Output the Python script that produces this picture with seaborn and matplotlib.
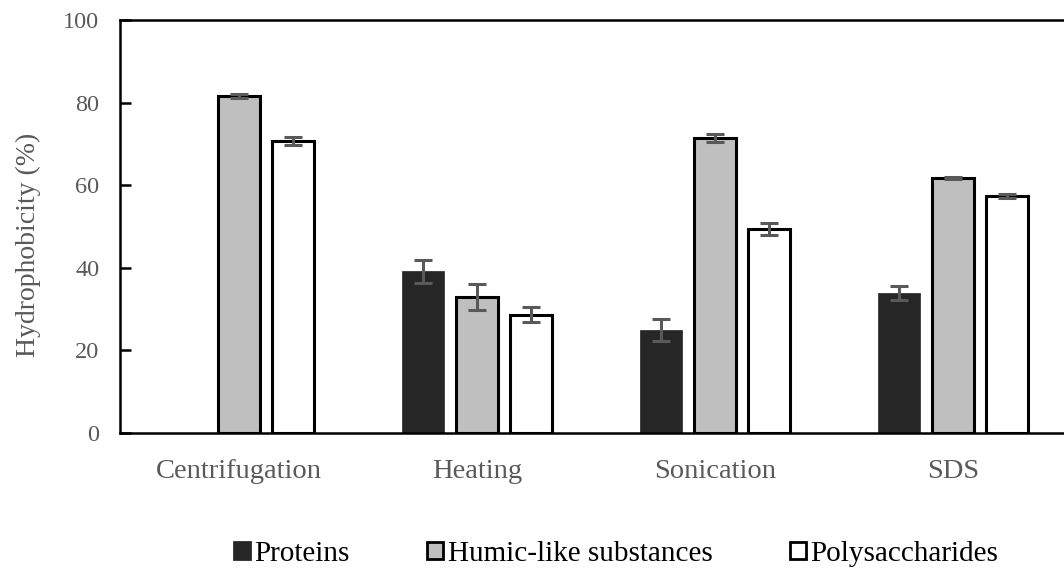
import numpy as np
import pandas as pd
import matplotlib
matplotlib.use("Agg")
import matplotlib.pyplot as plt
import seaborn as sns
from matplotlib.patches import Patch

# ---- data ----
categories = ["Centrifugation", "Heating", "Sonication", "SDS"]
series = ["Proteins", "Humic-like substances", "Polysaccharides"]
proteins = [0.0, 39.2, 24.9, 33.9]
proteins_err = [0.0, 2.8, 2.7, 1.8]
humic = [81.6, 32.9, 71.4, 61.7]
humic_err = [0.4, 3.1, 1.0, 0.3]
polysaccharides = [70.7, 28.6, 49.4, 57.4]
polysaccharides_err = [0.9, 1.8, 1.5, 0.5]
y_ticks = [0, 20, 40, 60, 80, 100]
y_label = "Hydrophobicity (%)"

values = [proteins, humic, polysaccharides]
errors = [proteins_err, humic_err, polysaccharides_err]
colors = {"Proteins": "#262626", "Humic-like substances": "#bfbfbf", "Polysaccharides": "#ffffff"}

df = pd.DataFrame({
    "category": [c for s in series for c in categories],
    "series": [s for s in series for c in categories],
    "value": [v for vals in values for v in vals],
})

sns.set_style("ticks")
plt.rcParams["font.family"] = ["Liberation Serif", "DejaVu Serif"]

fig = plt.figure(figsize=(10.64, 5.70), dpi=100)
ax = fig.add_axes([120 / 1064, 137 / 570, 952 / 1064, 413 / 570])

sns.barplot(data=df, x="category", y="value", hue="series", order=categories,
            hue_order=series, palette=colors, width=0.68, gap=0.21,
            saturation=1, errorbar=None, legend=False, ax=ax,
            edgecolor="black", linewidth=2.2)

# proteins bars without black outline
for p in ax.containers[0]:
    p.set_edgecolor("#262626")
    p.set_linewidth(0.5)

# error bars positioned on seaborn's bars
for cont, vals, errs in zip(ax.containers, values, errors):
    xs, ys, es = [], [], []
    for p, v, e in zip(cont, vals, errs):
        if v > 0 and e > 0:
            xs.append(p.get_x() + p.get_width() / 2)
            ys.append(v)
            es.append(e)
    ax.errorbar(xs, ys, yerr=es, fmt="none", ecolor="#595959",
                elinewidth=2.2, capsize=6.5, capthick=2.2, zorder=5)

ax.set_xlim(-0.5, 3.5)
ax.set_ylim(0, 100)
ax.set_yticks(y_ticks)
ax.set_xlabel("")
ax.set_ylabel(y_label, fontsize=20, color="#595959")
ax.yaxis.set_label_coords((41 - 120) / 952, (433 - 245) / 413)

for s in ["left", "bottom", "top", "right"]:
    ax.spines[s].set_visible(True)
    ax.spines[s].set_color("black")
    ax.spines[s].set_linewidth(1.8)

ax.tick_params(axis="y", direction="in", length=8, width=1.8, color="black",
               labelcolor="#595959", labelsize=17.5, pad=15)
ax.tick_params(axis="x", length=0, labelcolor="#595959", labelsize=20.5, pad=19)

handles = [Patch(facecolor=colors[s], edgecolor="#262626" if s == "Proteins" else "black",
                 linewidth=2) for s in series]
fig.legend(handles, series, loc="center", bbox_to_anchor=(616 / 1064, 1 - 554 / 570),
           ncol=3, frameon=False, fontsize=21, handlelength=0.55, handleheight=0.55,
           handletextpad=0.15, columnspacing=2.65, labelcolor="black", borderaxespad=0,
           borderpad=0)

fig.savefig("out.png", dpi=100)
